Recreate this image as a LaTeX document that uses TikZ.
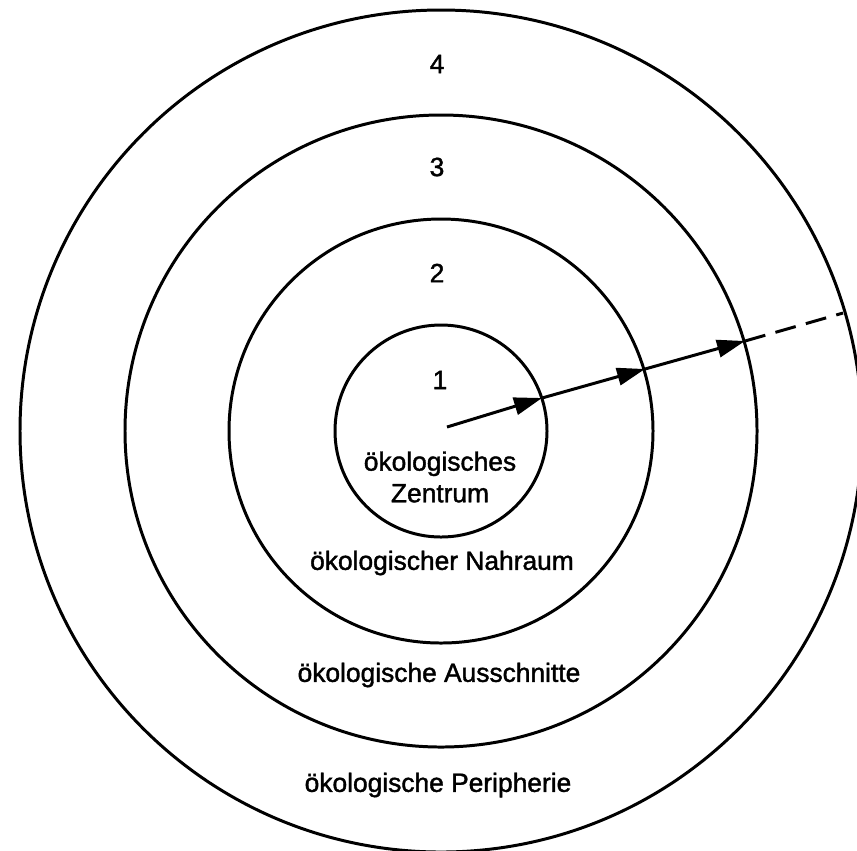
\documentclass[tikz,border=0pt]{standalone}
\usepackage{fontspec}
\setmainfont{Liberation Sans}
\newfontfamily\zonefont{Liberation Sans}[FakeBold=1.5]
\usetikzlibrary{arrows.meta}

\begin{document}
\begin{tikzpicture}[x=0.02cm,y=-0.02cm,>={Triangle[length=5.6mm,width=3.5mm]},
  ring/.style={line width=1.7pt},
  zone/.style={font=\zonefont\fontsize{15}{18}\selectfont,align=center,inner sep=1pt},
  flow/.style={->,line width=1.7pt}]
\clip (0,0) rectangle (857,850);
\coordinate (c) at (441,431);
\draw[ring] (c) circle[radius=106];
\draw[ring] (c) circle[radius=212];
\draw[ring] (c) circle[radius=316];
\draw[ring] (c) circle[radius=421];
\node[zone] (n1) at (440,380) {1};
\node[zone] (n2) at (437,273) {2};
\node[zone] (n3) at (437,167) {3};
\node[zone] (n4) at (437,64) {4};
\node[zone] (zentrum) at (440,477) {ökologisches\\Zentrum};
\node[zone] (nahraum) at (442,563) {ökologischer Nahraum};
\node[zone] (ausschnitte) at (439,675) {ökologische Ausschnitte};
\node[zone] (peripherie) at (438,785) {ökologische Peripherie};
\coordinate (p0) at (447,427);
\coordinate (p1) at (542,398);
\coordinate (p2) at (645,369);
\coordinate (p3) at (745,341);
\coordinate (p4) at (843,313);
\draw[flow] (p0) -- (p1);
\draw[flow] (p1) -- (p2);
\draw[flow] (p2) -- (p3);
\draw[line width=1.7pt,dash pattern=on 12pt off 6pt] (p3) -- (p4);
\end{tikzpicture}
\end{document}
